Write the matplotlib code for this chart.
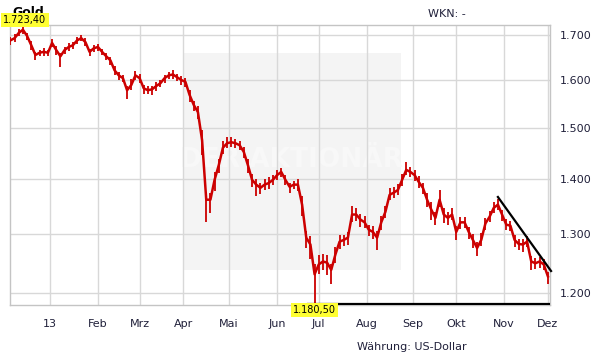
import numpy as np
import pandas as pd
import matplotlib
matplotlib.use("Agg")
import matplotlib.pyplot as plt
from matplotlib.ticker import FuncFormatter, NullLocator
from matplotlib.patches import Rectangle
import matplotlib.transforms as mtransforms

# trading days Dec 2012 .. Dec 2013, one sample every second day
dates = pd.bdate_range("2012-12-05", "2013-12-02")
sample_idx = np.arange(0, len(dates), 2)

closes = [
    1688, 1693, 1705, 1712.4, 1698, 1677, 1655, 1660, 1662, 1660,
    1682, 1666, 1652, 1666, 1673, 1677, 1688, 1693, 1684, 1662,
    1670, 1673, 1662, 1652, 1643, 1621, 1610, 1604, 1578, 1589,
    1610, 1604, 1582, 1578, 1580, 1587, 1593, 1604, 1610, 1612,
    1606, 1600, 1596, 1568, 1547, 1532, 1475, 1361, 1361, 1398,
    1426, 1460, 1469, 1471, 1469, 1465, 1452, 1426, 1398, 1389,
    1383, 1389, 1392, 1398, 1407, 1413, 1398, 1385, 1389, 1389,
    1352, 1293, 1281, 1230.5, 1247, 1252, 1250, 1238, 1264, 1286,
    1289, 1293, 1334, 1334, 1325, 1320, 1307, 1303, 1293, 1320,
    1339, 1370, 1374, 1379, 1398, 1417, 1413, 1407, 1394, 1383,
    1361, 1343, 1328, 1361, 1334, 1328, 1334, 1303, 1320, 1320,
    1303, 1289, 1275, 1289, 1318, 1330, 1346, 1352, 1334, 1316,
    1314, 1289, 1282, 1281, 1286, 1252, 1249, 1252, 1247, 1227,
]
up = [
    8, 10, 9, 11, 8, 9, 7, 6, 8, 7,
    8, 9, 7, 8, 9, 8, 7, 8, 9, 7,
    8, 7, 6, 8, 7, 9, 8, 7, 10, 14,
    9, 8, 7, 8, 7, 9, 8, 7, 8, 9,
    7, 8, 9, 10, 9, 12, 20, 15, 12, 14,
    12, 14, 12, 10, 9, 8, 10, 12, 11, 10,
    9, 10, 12, 10, 9, 8, 9, 8, 7, 10,
    15, 12, 14, 18, 16, 12, 13, 10, 12, 11,
    9, 10, 16, 12, 10, 11, 9, 10, 11, 12,
    10, 12, 10, 11, 12, 15, 10, 9, 11, 10,
    12, 14, 10, 18, 12, 10, 11, 10, 9, 10,
    9, 10, 11, 12, 10, 11, 10, 10, 9, 10,
    9, 8, 9, 10, 9, 10, 9, 8, 9, 7,
]
dn = [
    10, 9, 8, 10, 9, 10, 12, 8, 9, 8,
    9, 10, 24, 9, 8, 9, 8, 7, 9, 10,
    8, 9, 8, 9, 10, 11, 10, 9, 18, 10,
    9, 10, 11, 9, 12, 10, 9, 10, 8, 9,
    9, 10, 12, 14, 12, 15, 30, 40, 25, 20,
    15, 12, 10, 9, 10, 9, 12, 15, 14, 22,
    12, 10, 11, 9, 10, 9, 10, 11, 9, 12,
    20, 18, 25, 50, 16, 15, 20, 23, 14, 12,
    10, 12, 14, 12, 13, 10, 11, 12, 22, 14,
    12, 10, 9, 10, 11, 10, 9, 12, 11, 12,
    14, 18, 12, 14, 16, 12, 10, 14, 12, 10,
    12, 14, 14, 10, 11, 10, 9, 10, 12, 10,
    10, 12, 11, 12, 10, 14, 10, 11, 9, 12,
]
month_labels = ["13", "Feb", "Mrz", "Apr", "Mai", "Jun", "Jul",
                "Aug", "Sep", "Okt", "Nov", "Dez"]
price_ticks = [1200, 1300, 1400, 1500, 1600, 1700]
trend_idx = [234, 259.5]
trend_val = [1366, 1236]
support_idx = [143, 259]
support_val = 1182

closes = np.array(closes, dtype=float)
highs = closes + np.array(up)
lows = closes - np.array(dn)


def de_fmt(v, dec=0):
    s = f"{v:,.{dec}f}"
    return s.replace(",", "X").replace(".", ",").replace("X", ".")


RED = "#cc0000"
GRID = "#d8d8d8"
TXT = "#20203a"

fig = plt.figure(figsize=(6.11, 3.64), dpi=100)
ax = fig.add_axes([10 / 611, 59 / 364, 540 / 611, 280 / 364])
ax.set_yscale("log")
ax.set_ylim(lows.min(), highs.max())
ax.set_xlim(-0.2, 259)

# watermark box
ax.add_patch(Rectangle((0.32, 0.125), 0.404, 0.775, transform=ax.transAxes,
                       facecolor="#f4f4f4", edgecolor="none", zorder=0))
ax.text(0.522, 0.518, "DER AKTIONÄR", transform=ax.transAxes, ha="center",
        va="center", fontsize=19, fontweight="bold", color="#f8f8f8", zorder=0.5)

# grid
month_pos = [i for i in range(1, len(dates)) if dates[i].month != dates[i - 1].month]
for p in month_pos:
    ax.axvline(p, color=GRID, lw=1, zorder=1)
for t in price_ticks:
    ax.axhline(t, color=GRID, lw=1, zorder=1)

# price bars
ax.vlines(sample_idx, lows, highs, color=RED, lw=1.3, zorder=3)
ax.plot(sample_idx, closes, color=RED, lw=1.8, zorder=3)

# trend + support
ax.plot(trend_idx, trend_val, color="black", lw=1.6, zorder=4, clip_on=False)
ax.plot(support_idx, [support_val, support_val], color="black", lw=1.6, zorder=4)

ax.set_xticks(month_pos)
ax.set_xticklabels(month_labels)
ax.yaxis.tick_right()
ax.set_yticks(price_ticks)
ax.yaxis.set_minor_locator(NullLocator())
ax.yaxis.set_major_formatter(FuncFormatter(lambda v, _: de_fmt(v)))
ax.tick_params(axis="both", length=0, labelsize=8, labelcolor=TXT)
ax.tick_params(axis="x", pad=10)
ax.tick_params(axis="y", pad=7)
for s in ax.spines.values():
    s.set_color("#c4c4c4")
    s.set_linewidth(1)

# title sits partly behind the max label
ax.text(12 / 611, 1 - 13 / 364, "Gold", transform=fig.transFigure, fontsize=9,
        fontweight="bold", color="black", va="center", ha="left", zorder=5,
        clip_on=False)

# max / min labels
i_max = int(np.argmax(highs))
i_min = int(np.argmin(lows))
blend = mtransforms.blended_transform_factory(ax.transData, ax.transAxes)
ax.text(sample_idx[i_max] + 1, 1.0, de_fmt(highs[i_max], 2), transform=blend,
        ha="center", va="bottom", fontsize=7, color="black", zorder=6,
        bbox=dict(boxstyle="square,pad=0.25", fc="#ffff33", ec="none"), clip_on=False)
ax.text(sample_idx[i_min], 0.0, de_fmt(lows[i_min], 2), transform=blend,
        ha="center", va="top", fontsize=7, color="black", zorder=6,
        bbox=dict(boxstyle="square,pad=0.2", fc="#ffff33", ec="none"), clip_on=False)

fig.text(428 / 611, 1 - 14 / 364, "WKN: -", fontsize=8, color=TXT, va="center")
fig.text(357 / 611, 1 - 347 / 364, "Währung: US-Dollar", fontsize=8,
         color=TXT, va="center")

fig.savefig("out.png", dpi=100)
